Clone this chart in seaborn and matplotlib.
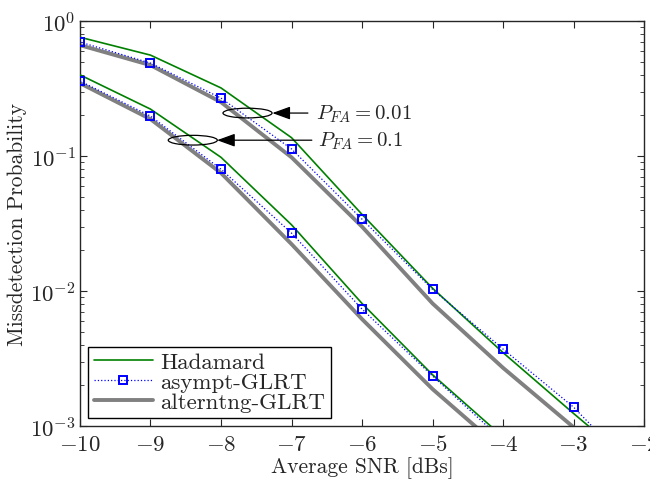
import numpy as np
import pandas as pd
import seaborn as sns
import matplotlib
matplotlib.use("Agg")
import matplotlib.pyplot as plt
from matplotlib.patches import Ellipse

# ---- data ----
snr = [-10, -9, -8, -7, -6, -5, -4, -3, -2]

# P_FA = 0.01 group
had_001 = [0.76, 0.56, 0.32, 0.137, 0.037, 0.0105, 0.0035, 0.00124, 0.00045]
asy_001 = [0.70, 0.489, 0.269, 0.113, 0.0341, 0.0103, 0.00372, 0.00138, 0.0004]
alt_001 = [0.664, 0.472, 0.251, 0.098, 0.030, 0.0081, 0.0027, 0.00098, 0.00035]

# P_FA = 0.1 group
snr_lo = [-10, -9, -8, -7, -6, -5, -4]
had_01 = [0.40, 0.223, 0.098, 0.031, 0.0081, 0.0024, 0.00083]
asy_01 = [0.36, 0.198, 0.080, 0.0269, 0.00736, 0.00235, 0.00078]
alt_01 = [0.347, 0.188, 0.075, 0.0223, 0.0062, 0.00188, 0.00066]

xticks = [-10, -9, -8, -7, -6, -5, -4, -3, -2]
xlabels = ["$-10$", "$-9$", "$-8$", "$-7$", "$-6$", "$-5$", "$-4$", "$-3$", "$-2$"]

sns.set_style("ticks")
plt.rcParams["font.family"] = ["cmr10", "DejaVu Serif"]
plt.rcParams["mathtext.fontset"] = "cm"
plt.rcParams["axes.formatter.use_mathtext"] = True
plt.rcParams["xtick.direction"] = "in"
plt.rcParams["ytick.direction"] = "in"

fig = plt.figure(figsize=(6.5, 4.81), dpi=100)
ax = fig.add_axes([0.123, 0.112, 0.868, 0.842])

GREEN = "#008000"
BLUE = "#0000ff"
GRAY = "#808080"

def draw(x, y, kind, label):
    if kind == "had":
        sns.lineplot(x=x, y=y, ax=ax, color=GREEN, lw=1.2, label=label, zorder=3)
    elif kind == "asy":
        sns.lineplot(x=x, y=y, ax=ax, color=BLUE, lw=0.9, linestyle=":",
                     marker="s", markersize=6, markerfacecolor="none",
                     markeredgecolor=BLUE, markeredgewidth=1.4, label=label, zorder=4)
    else:
        sns.lineplot(x=x, y=y, ax=ax, color=GRAY, lw=2.8, label=label, zorder=2)

draw(snr, had_001, "had", "Hadamard")
draw(snr, asy_001, "asy", "asympt-GLRT")
draw(snr, alt_001, "alt", "alterntng-GLRT")
draw(snr_lo, had_01, "had", None)
draw(snr_lo, asy_01, "asy", None)
draw(snr_lo, alt_01, "alt", None)

ax.set_yscale("log")
ax.set_xlim(-10, -2)
ax.set_ylim(1e-3, 1)
ax.set_xticks(xticks)
ax.set_xticklabels(xlabels)
ax.tick_params(axis="both", which="both", top=True, right=True, labelsize=16.5)
ax.tick_params(axis="x", pad=6)
ax.tick_params(axis="y", pad=3)
ax.tick_params(which="major", length=5)
ax.tick_params(which="minor", length=3)
for s in ax.spines.values():
    s.set_linewidth(1.0)

ax.set_xlabel("Average SNR [dBs]", fontsize=15.5, labelpad=1)
ax.set_ylabel("Missdetection Probability", fontsize=15.5, labelpad=2)

# annotations
for (cx, cy) in [(0.297, 0.773), (0.200, 0.706)]:
    ax.add_patch(Ellipse((cx, cy), 0.087, 0.024, transform=ax.transAxes,
                         fill=False, edgecolor="black", lw=0.9, zorder=6))
arrow_style = dict(arrowstyle="-|>,head_length=1.1,head_width=0.4",
                   color="black", lw=0.9, shrinkA=0, shrinkB=0)
ax.annotate("", xy=(0.341, 0.773), xycoords="axes fraction",
            xytext=(0.404, 0.773), textcoords="axes fraction",
            arrowprops=arrow_style)
ax.annotate("", xy=(0.243, 0.706), xycoords="axes fraction",
            xytext=(0.411, 0.706), textcoords="axes fraction",
            arrowprops=arrow_style)
ax.text(0.418, 0.773, r"$P_{FA}=0.01$", transform=ax.transAxes,
        fontsize=15, va="center", ha="left")
ax.text(0.422, 0.706, r"$P_{FA}=0.1$", transform=ax.transAxes,
        fontsize=15, va="center", ha="left")

leg = ax.legend(loc="lower left", fontsize=16.5, frameon=True, fancybox=False,
                edgecolor="black", framealpha=1, borderpad=0.25,
                labelspacing=0.0, handlelength=2.6, handletextpad=0.3,
                borderaxespad=0.35)
leg.get_frame().set_linewidth(1.0)

fig.savefig("out.png", dpi=100)
